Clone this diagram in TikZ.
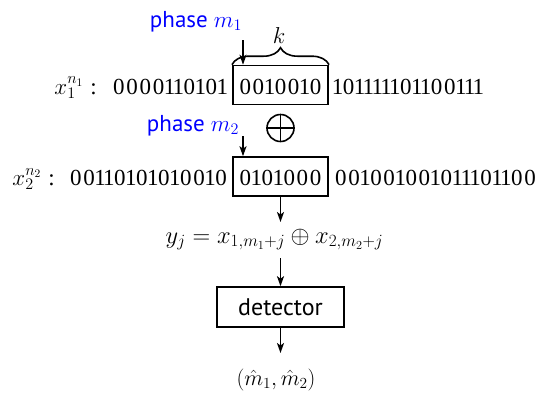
\RequirePackage{fix-cm}
\documentclass[tikz,border=0pt]{standalone}
\usepackage{fontspec}
\setmainfont{Liberation Serif}
\newfontfamily\labelsans{PT Sans}
\usetikzlibrary{arrows.meta,decorations.pathreplacing}
% digits of a bit string: narrower advance for 1, wider for 0 (proportional figures)
\def\bitdigit#1{\ifx1#1\makebox[8.8pt]{1}\else\makebox[13.2pt]{#1}\fi}
\def\bitsloop#1{\ifx\relax#1\else\bitdigit{#1}\expandafter\bitsloop\fi}
\def\bits#1{\bitsloop#1\relax}
\begin{document}
\begin{tikzpicture}[x=1pt,y=-1pt,
  every node/.style={inner sep=0pt},
  seq/.style={font=\fontsize{23}{27}\selectfont},
  win/.style={draw, line width=1.6pt, minimum width=95.5pt, minimum height=39pt,
    text height=18pt, text depth=0pt, font=\fontsize{23}{27}\selectfont},
  lab/.style={text=blue, font=\labelsans\fontsize{23}{27}\selectfont},
  arr/.style={line width=1.6pt, -{Stealth[length=10pt,width=7pt,inset=2.5pt]}},
  ln/.style={line width=1.6pt}
]
\useasboundingbox (0,0) rectangle (540,392);
% windows
\node[win] (b1) at (280.5,85) {\bits{0010010}};
\node[win] (b2) at (280.5,176.5) {\bits{0101000}};
% row 1
\node[seq, anchor=base east] (l1) at ([xshift=-5pt]b1.base west) {\bits{0000110101}};
\node[seq, anchor=base west] (r1) at ([xshift=4pt]b1.base east) {\bits{101111101100111}};
\coordinate (c1) at (97,0);
\node[seq, anchor=base east] (n1) at (c1 |- b1.base) {$x_1^{n_1}$\hspace{7pt}:};
% row 2
\node[seq, anchor=base east] (l2) at ([xshift=-4pt]b2.base west) {\bits{00110101010010}};
\node[seq, anchor=base west] (r2) at ([xshift=5pt]b2.base east) {\bits{001001001011101100}};
\coordinate (c2) at (55,0);
\node[seq, anchor=base east] (n2) at (c2 |- b2.base) {$x_2^{n_2}$\hspace{7pt}:};
% phase labels
\node[lab, anchor=base] (p1) at (196,27) {phase $m_1$};
\node[lab, anchor=base] (p2) at (193,131) {phase $m_2$};
\coordinate (s1) at (243,40);
\coordinate (s2) at (243,136);
\draw[arr] (s1) -- (s1 |- b1.north);
\draw[arr] (s2) -- (s2 |- b2.north);
% brace and k
\draw[ln, decorate, decoration={brace, amplitude=17pt}] (b1.north west) -- (b1.north east);
\node[seq, anchor=base] (k) at (279,43) {$k$};
% xor
\node[circle, draw, line width=1.6pt, minimum size=27pt] (xor) at (280.5,128) {};
\draw[ln] (xor.north) -- (xor.south) (xor.west) -- (xor.east);
% equation, detector, output
\node[anchor=base, font=\fontsize{24.5}{28}\selectfont] (eq) at (274.5,243) {$y_j = x_{1,m_1+j}\oplus x_{2,m_2+j}$};
\node[draw, line width=1.6pt, minimum width=127pt, minimum height=40pt,
  font=\labelsans\fontsize{24}{28}\selectfont] (det) at (280.5,307) {detector};
\node[anchor=base, font=\fontsize{22}{26}\selectfont] (out) at (276,385) {$(\hat m_1,\hat m_2)$};
\coordinate (e1) at (280.5,222);
\coordinate (e2) at (280.5,258);
\coordinate (e3) at (280.5,353);
\draw[arr] (b2.south) -- (e1);
\draw[arr] (e2) -- (det.north);
\draw[arr] (det.south) -- (e3);
\end{tikzpicture}
\end{document}
